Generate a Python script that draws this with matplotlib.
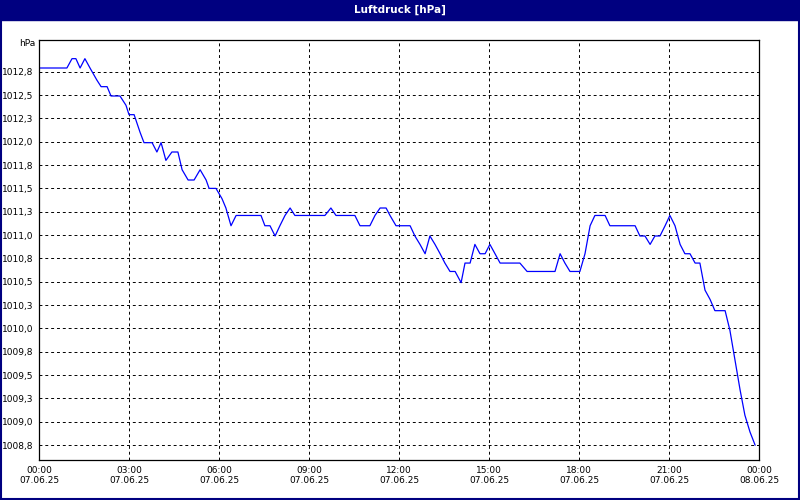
import matplotlib
matplotlib.use("Agg")
import matplotlib.pyplot as plt
from matplotlib.patches import Rectangle

# Stunden ab 07.06.25 00:00
stunden = [0.00, 0.93, 1.10, 1.23, 1.37, 1.53, 1.70, 1.93, 2.07, 2.27, 2.40, 2.70, 2.90, 3.00,
           3.17, 3.37, 3.50, 3.77, 3.93, 4.07, 4.23, 4.43, 4.63, 4.77, 4.97, 5.17, 5.37, 5.57,
           5.67, 5.90, 6.10, 6.23, 6.40, 6.57, 7.40, 7.53, 7.70, 7.87, 8.03, 8.20, 8.37, 8.53,
           9.53, 9.73, 9.90, 10.53, 10.70, 11.03, 11.20, 11.37, 11.57, 11.70, 11.90, 12.37,
           12.53, 12.70, 12.87, 13.03, 13.20, 13.37, 13.53, 13.70, 13.87, 14.07, 14.20, 14.37,
           14.53, 14.70, 14.87, 15.03, 15.20, 15.37, 16.03, 16.27, 17.20, 17.37, 17.53, 17.70,
           18.03, 18.20, 18.37, 18.53, 18.87, 19.03, 19.87, 20.03, 20.20, 20.37, 20.53, 20.70,
           20.87, 21.03, 21.20, 21.37, 21.53, 21.70, 21.87, 22.03, 22.20, 22.37, 22.53, 22.87,
           23.03, 23.20, 23.37, 23.53, 23.70, 23.87]
druck = [1012.84, 1012.84, 1012.94, 1012.94, 1012.84, 1012.94, 1012.84, 1012.71, 1012.64,
         1012.64, 1012.54, 1012.54, 1012.44, 1012.34, 1012.34, 1012.15, 1012.04, 1012.04,
         1011.94, 1012.04, 1011.85, 1011.94, 1011.94, 1011.75, 1011.64, 1011.64, 1011.75,
         1011.64, 1011.55, 1011.55, 1011.44, 1011.34, 1011.15, 1011.26, 1011.26, 1011.15,
         1011.15, 1011.04, 1011.15, 1011.26, 1011.34, 1011.26, 1011.26, 1011.34, 1011.26,
         1011.26, 1011.15, 1011.15, 1011.26, 1011.34, 1011.34, 1011.26, 1011.15, 1011.15,
         1011.04, 1010.95, 1010.85, 1011.04, 1010.95, 1010.85, 1010.75, 1010.66, 1010.66,
         1010.54, 1010.75, 1010.75, 1010.95, 1010.85, 1010.85, 1010.95, 1010.85, 1010.75,
         1010.75, 1010.66, 1010.66, 1010.85, 1010.75, 1010.66, 1010.66, 1010.85, 1011.15,
         1011.26, 1011.26, 1011.15, 1011.15, 1011.04, 1011.04, 1010.95, 1011.04, 1011.04,
         1011.15, 1011.26, 1011.15, 1010.95, 1010.85, 1010.85, 1010.75, 1010.75, 1010.46,
         1010.36, 1010.24, 1010.24, 1010.03, 1009.71, 1009.39, 1009.12, 1008.94, 1008.80]

y_ticks = [1008.8 + 0.25 * i for i in range(17)]
y_labels = ["1008,8", "1009,0", "1009,3", "1009,5", "1009,8", "1010,0", "1010,3", "1010,5",
            "1010,8", "1011,0", "1011,3", "1011,5", "1011,8", "1012,0", "1012,3", "1012,5", "1012,8"]
x_ticks = [0, 3, 6, 9, 12, 15, 18, 21, 24]
x_labels = ["00:00\n07.06.25", "03:00\n07.06.25", "06:00\n07.06.25", "09:00\n07.06.25",
            "12:00\n07.06.25", "15:00\n07.06.25", "18:00\n07.06.25", "21:00\n07.06.25",
            "00:00\n08.06.25"]

navy = "#000080"
fig = plt.figure(figsize=(8, 5), dpi=100, facecolor="white")
fig.patches.append(Rectangle((0, 1 - 20 / 500), 1, 20 / 500, transform=fig.transFigure,
                             color=navy, zorder=0))
fig.patches.append(Rectangle((1 / 800, 1 / 500), 798 / 800, 498 / 500, transform=fig.transFigure,
                             fill=False, edgecolor=navy, lw=1.5, zorder=0))
fig.text(0.5, 1 - 10 / 500, "Luftdruck [hPa]", color="white", ha="center", va="center",
         fontsize=7.5, fontweight="bold")

ax = fig.add_axes([39 / 800, 40 / 500, 720 / 800, 420 / 500])
ax.plot(stunden, druck, color="#0000ff", lw=0.9)
ax.set_xlim(0, 24)
ax.set_ylim(1008.64, 1013.14)
ax.set_yticks(y_ticks)
ax.set_yticklabels(y_labels)
ax.set_xticks(x_ticks)
ax.set_xticklabels(x_labels)
ax.tick_params(labelsize=6.5, length=0, pad=4)
ax.grid(True, color="black", linestyle=(0, (3, 3)), lw=0.7)
for s in ax.spines.values():
    s.set_color("black")
    s.set_linewidth(0.9)
ax.text(-0.005, 1012.8 + 0.3, "hPa", transform=ax.get_yaxis_transform(), ha="right",
        va="center", fontsize=6.5)

fig.savefig("out.png", dpi=100, facecolor=fig.get_facecolor())
